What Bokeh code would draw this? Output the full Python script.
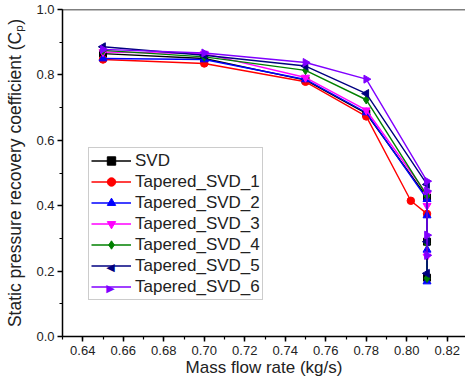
import math
from bokeh.plotting import figure
from bokeh.models import (Range1d, Span, Legend, LegendItem, SingleIntervalTicker,
                          NumeralTickFormatter, Label)
from bokeh.embed import file_html
from bokeh.resources import INLINE

# ---- data ----
svd_x = [0.65, 0.70, 0.75, 0.78, 0.81, 0.81, 0.81]
svd_y = [0.865, 0.850, 0.784, 0.682, 0.425, 0.290, 0.180]

t1_x = [0.65, 0.70, 0.75, 0.78, 0.802, 0.81]
t1_y = [0.847, 0.835, 0.779, 0.673, 0.415, 0.375]

t2_x = [0.65, 0.70, 0.75, 0.78, 0.81, 0.81, 0.81, 0.81]
t2_y = [0.850, 0.847, 0.786, 0.685, 0.420, 0.370, 0.265, 0.168]

t3_x = [0.65, 0.70, 0.75, 0.78, 0.81, 0.81, 0.81]
t3_y = [0.870, 0.865, 0.792, 0.692, 0.435, 0.400, 0.245]

t4_x = [0.65, 0.70, 0.75, 0.78, 0.81, 0.81, 0.81]
t4_y = [0.875, 0.855, 0.814, 0.724, 0.430, 0.285, 0.178]

t5_x = [0.65, 0.70, 0.75, 0.78, 0.81, 0.81, 0.81]
t5_y = [0.886, 0.860, 0.827, 0.743, 0.465, 0.290, 0.193]

t6_x = [0.65, 0.70, 0.75, 0.78, 0.81, 0.81, 0.81, 0.81]
t6_y = [0.878, 0.867, 0.838, 0.787, 0.475, 0.445, 0.310, 0.248]

names = ["SVD", "Tapered_SVD_1", "Tapered_SVD_2", "Tapered_SVD_3",
         "Tapered_SVD_4", "Tapered_SVD_5", "Tapered_SVD_6"]
xs = [svd_x, t1_x, t2_x, t3_x, t4_x, t5_x, t6_x]
ys = [svd_y, t1_y, t2_y, t3_y, t4_y, t5_y, t6_y]
colors = ["#000000", "#FF0000", "#0000FF", "#FF00FF", "#008000", "#000080", "#8000FF"]
markers = ["square", "circle", "triangle", "inverted_triangle", "diamond", "triangle", "triangle"]
angles = [0, 0, 0, 0, 0, math.pi / 2, -math.pi / 2]
legend_chars = [None, None, None, None, None, "\u25C0", "\u25B6"]
sizes = [7, 7.5, 8, 8, 8.5, 8, 8]

x_tick_step = 0.02
y_tick_step = 0.2

FONT = "Liberation Sans"

p = figure(width=465, height=382, output_backend="svg", toolbar_location=None,
           x_range=Range1d(0.63, 0.829), y_range=Range1d(0.0, 1.0),
           min_border_left=62, min_border_right=0, min_border_top=9, min_border_bottom=46)
p.outline_line_color = None
p.grid.visible = False
p.background_fill_color = "white"

items = []
for n, x, y, c, m, a, s, ch in zip(names, xs, ys, colors, markers, angles, sizes, legend_chars):
    l = p.line(x, y, line_color=c, line_width=1.4)
    r = p.scatter(x, y, marker=m, angle=a, size=s, fill_color=c, line_color=c)
    items.append(LegendItem(label=n, renderers=[l, r] if ch is None else [l]))

top = Span(location=1.0, dimension="width", line_color="black", line_width=1.5)
p.add_layout(top)

# axes
p.xaxis.ticker = SingleIntervalTicker(interval=x_tick_step, num_minor_ticks=2)
p.yaxis.ticker = SingleIntervalTicker(interval=y_tick_step, num_minor_ticks=2)
p.xaxis.formatter = NumeralTickFormatter(format="0.00")
p.yaxis.formatter = NumeralTickFormatter(format="0.0")
for ax in (p.xaxis, p.yaxis):
    ax.axis_line_color = "black"
    ax.axis_line_width = 1.5
    ax.major_tick_line_color = "black"
    ax.minor_tick_line_color = "black"
    ax.major_tick_line_width = 1.5
    ax.minor_tick_line_width = 1.2
    ax.major_tick_out = 5
    ax.major_tick_in = 0
    ax.minor_tick_out = 3
    ax.minor_tick_in = 0
    ax.major_label_text_font = FONT
    ax.major_label_text_font_size = "13px"
    ax.major_label_text_color = "#222222"
    ax.axis_label_text_font = FONT
    ax.axis_label_text_font_style = "normal"
    ax.axis_label_text_color = "#222222"

p.xaxis.axis_label = "Mass flow rate (kg/s)"
p.yaxis.axis_label = "Static pressure recovery coefficient (C\u209a)"
p.xaxis.axis_label_text_font_size = "17px"
p.yaxis.axis_label_text_font_size = "17.5px"
p.xaxis.major_label_standoff = 4
p.xaxis.axis_label_standoff = 0
p.yaxis.major_label_standoff = 3
p.yaxis.axis_label_standoff = 8

LEG_X, LEG_Y, PAD, ROW, GW = 26, 36, 2, 21, 40
legend = Legend(items=items, location=(LEG_X, LEG_Y))
legend.label_text_font = FONT
legend.label_text_font_size = "17px"
legend.label_text_color = "#222222"
legend.border_line_color = "#999999"
legend.border_line_width = 1
legend.background_fill_alpha = 0.0
legend.padding = PAD
legend.spacing = 0
legend.margin = 0
legend.label_height = ROW
legend.glyph_height = ROW
legend.glyph_width = GW
legend.label_standoff = 4
p.add_layout(legend)

# rotated-triangle legend symbols (Bokeh legends ignore marker angle)
n_items = len(names)
for i, (c, ch) in enumerate(zip(colors, legend_chars)):
    if ch is None:
        continue
    cy = LEG_Y + 2 * PAD + n_items * ROW - PAD - (i + 0.5) * ROW
    cx = LEG_X + PAD + GW / 2
    p.add_layout(Label(x=cx, y=cy, x_units="screen", y_units="screen", text=ch,
                       text_color=c, text_font="DejaVu Sans", text_font_size="11px",
                       text_align="center", text_baseline="middle"))

open("out.html", "w").write(file_html(p, INLINE))
